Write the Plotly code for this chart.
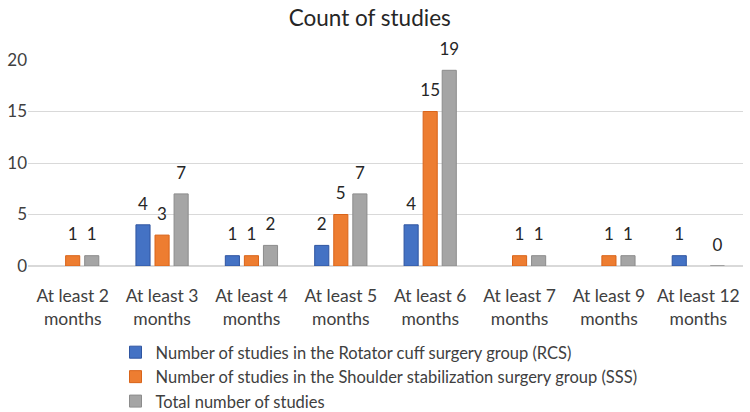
import plotly.graph_objects as go

categories = ["At least 2<br>months", "At least 3<br>months", "At least 4<br>months",
              "At least 5<br>months", "At least 6<br>months", "At least 7<br>months",
              "At least 9<br>months", "At least 12<br>months"]
rcs = [None, 4, 1, 2, 4, None, None, 1]
sss = [1, 3, 1, 5, 15, 1, 1, None]
total = [1, 7, 2, 7, 19, 1, 1, 0]

series = [
    ("Number of studies in the Rotator cuff surgery group (RCS)", rcs, "#4472C4", "#2F55A0"),
    ("Number of studies in the Shoulder stabilization surgery group (SSS)", sss, "#ED7D31", "#D9641A"),
    ("Total number of studies", total, "#A5A5A5", "#8C8C8C"),
]

font = "Lato, 'Open Sans', sans-serif"
fig = go.Figure()
for name, vals, col, edge in series:
    fig.add_trace(go.Bar(
        x=categories, y=vals, name=name,
        marker=dict(color=col, line=dict(color=edge, width=1)),
    ))
# data labels, grouped to sit above their bars
for name, vals, col, edge in series:
    fig.add_trace(go.Scatter(
        x=categories, y=vals, mode="markers+text", showlegend=False,
        text=[("" if v is None else str(v)) for v in vals],
        textposition="top center", cliponaxis=False, hoverinfo="skip",
        marker=dict(size=16, color="rgba(0,0,0,0)"),
        textfont=dict(size=17, color="#262626", family=font),
    ))

fig.update_layout(
    width=750, height=412,
    margin=dict(l=28, r=7, t=60, b=146, autoexpand=False),
    paper_bgcolor="white", plot_bgcolor="white",
    title=dict(text="Count of studies", x=0.493, xanchor="center", xref="container",
               y=0.955, yanchor="middle", yref="container",
               font=dict(size=22.5, color="#262626", family=font)),
    barmode="group", bargap=0.36, bargroupgap=0.26,
    scattermode="group", scattergap=0.36,
    font=dict(family=font, color="#404040"),
    showlegend=True,
    legend=dict(orientation="v", x=0.154, xanchor="left", xref="container",
                y=0.187, yanchor="top", yref="container",
                font=dict(size=16.5, color="#404040", family=font),
                tracegroupgap=0, itemwidth=30, bgcolor="rgba(0,0,0,0)"),
)
fig.update_yaxes(range=[0, 20], tickvals=[0, 5, 10, 15, 20], showgrid=True,
                 gridcolor="#D9D9D9", zeroline=True, zerolinecolor="#D9D9D9",
                 tickfont=dict(size=17, color="#404040"), ticks="", showline=False,
                 automargin=False)
fig.update_xaxes(tickfont=dict(size=17.5, color="#404040"), showline=True,
                 linecolor="#D9D9D9", ticks="", ticklabelstandoff=14, automargin=False)

fig.write_html("out.html", config={"displayModeBar": False},
               post_script="document.body.style.margin='0';")
